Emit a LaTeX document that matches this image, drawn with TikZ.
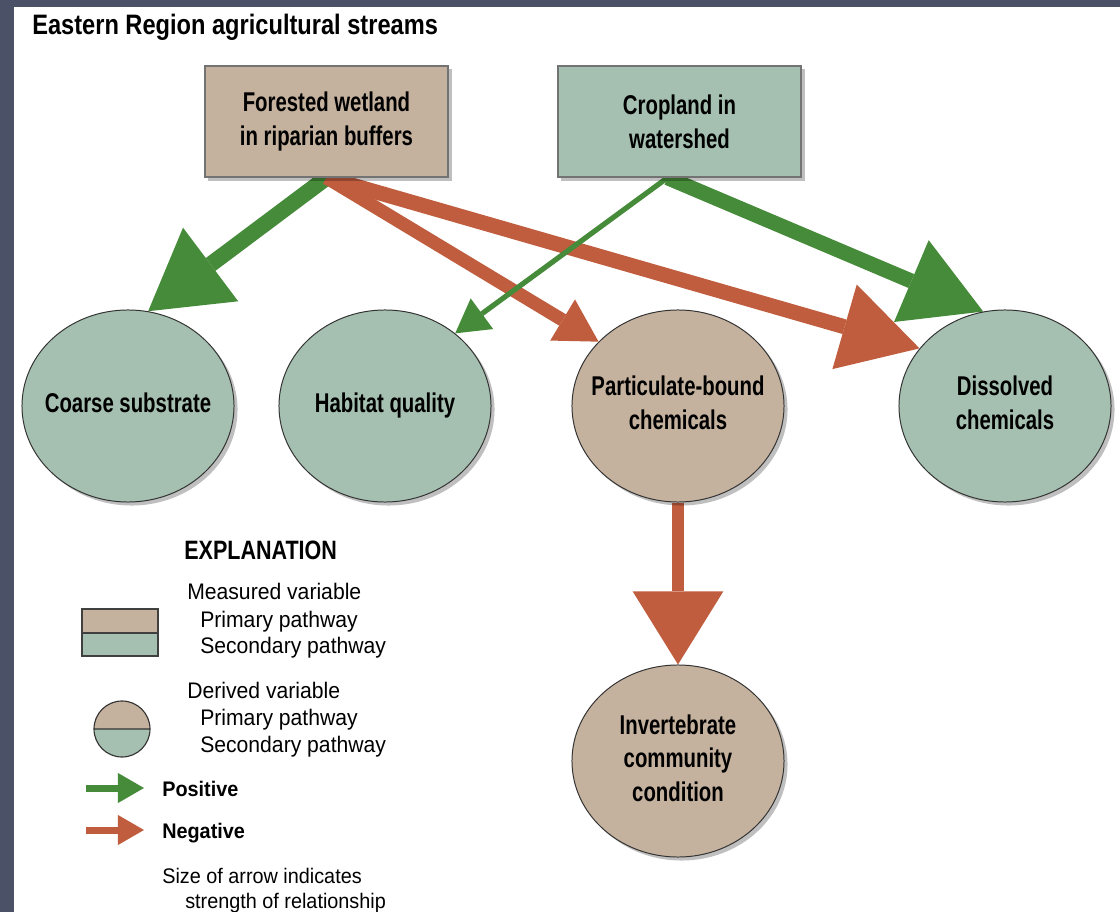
\documentclass[tikz,border=0pt]{standalone}
\usepackage{fontspec}
\usepackage{xcolor}
\usepackage{tikz}
\usetikzlibrary{shapes.geometric, arrows.meta, shadows, calc}

\newfontfamily\nodefont{Liberation Sans}[FakeStretch=0.75]
\newfontfamily\titlefont{Liberation Sans}[FakeStretch=0.84]
\newfontfamily\headfont{Liberation Sans}[FakeStretch=0.81]
\newfontfamily\legendfont{Liberation Sans}[FakeStretch=0.94]

\definecolor{slate}{HTML}{4B5166}
\definecolor{tanfill}{HTML}{C5B29E}
\definecolor{sagefill}{HTML}{A5C0B0}
\definecolor{posgreen}{HTML}{468B3A}
\definecolor{negorange}{HTML}{C05D3E}

% label of zero width, so the ellipse keeps its own size
\newcommand{\flatlabel}[1]{\makebox[0pt]{\begin{tabular}{@{}c@{}}#1\end{tabular}}}

\pgfdeclarelayer{paper}
\pgfdeclarelayer{links}
\pgfsetlayers{paper,links,main}

\begin{document}
\begin{tikzpicture}[
x=0.025cm, y=-0.025cm,
shadowed/.style={
drop shadow={shadow xshift=2.5pt, shadow yshift=-2.5pt, fill=black, opacity=0.25}
},
measbox/.style={
rectangle,
draw=black!55,
line width=1pt,
align=center,
minimum width=6.075cm,
minimum height=2.775cm,
font=\nodefont\bfseries\fontsize{19.3pt}{24pt}\selectfont,
shadowed
},
derivnode/.style={
ellipse,
draw=black!80,
line width=0.7pt,
inner sep=0pt,
minimum width=5.3cm,
minimum height=4.8cm,
font=\nodefont\bfseries\fontsize{19.3pt}{24pt}\selectfont,
shadowed
},
legendtext/.style={
anchor=base west,
inner sep=0pt,
font=\legendfont\fontsize{16pt}{19pt}\selectfont
},
linkarrow/.style n args={4}{
draw=#1,
line width=#2,
-{Triangle[length=#3, width=#4, line width=0pt]}
}
]

\useasboundingbox (0,0) rectangle (1120,912);

% Page frame
\begin{pgfonlayer}{paper}
\fill[slate] (0,0) rectangle (1120,912);
\fill[white] (14,7) rectangle (1120,912);
\end{pgfonlayer}

\node[anchor=base west, inner sep=0pt, font=\titlefont\bfseries\fontsize{20pt}{24pt}\selectfont]
(title) at (32,35) {Eastern Region agricultural streams};

% Measured variables
\node[measbox, fill=tanfill] (forest) at (326.5,121.5)
{Forested wetland\\in riparian buffers};

\node[measbox, fill=sagefill] (crop) at (679.5,121.5)
{Cropland in\\watershed};

% Derived variables
\node[derivnode, fill=sagefill] (coarse) at (128,406) {\flatlabel{Coarse substrate}};
\node[derivnode, fill=sagefill] (habitat) at (385,406) {\flatlabel{Habitat quality}};
\node[derivnode, fill=tanfill] (partic) at (678,406) {\flatlabel{Particulate-bound\\chemicals}};
\node[derivnode, fill=sagefill] (dissolved) at (1005,406) {\flatlabel{Dissolved\\chemicals}};
\node[derivnode, fill=tanfill] (invert) at (678,761)
{\flatlabel{Invertebrate\\community\\condition}};

\coordinate (cropfoot) at ($(crop.south)+(-12,0)$);

% Pathways
\begin{pgfonlayer}{links}
\draw[linkarrow={posgreen}{0.4cm}{1.95cm}{2.3cm}] (forest.south) -- (coarse.78);
\draw[linkarrow={negorange}{0.33cm}{1.05cm}{1.2cm}] (forest.south) -- (partic.141);
\draw[linkarrow={negorange}{0.375cm}{1.95cm}{2.2cm}] (forest.south) -- (dissolved.146);
\draw[linkarrow={posgreen}{0.13cm}{0.83cm}{0.95cm}] (cropfoot) -- (habitat.46);
\draw[linkarrow={posgreen}{0.375cm}{1.95cm}{2.22cm}] (cropfoot) -- (dissolved.103);
\draw[linkarrow={negorange}{0.3cm}{1.83cm}{2.27cm}] (partic.south) -- (invert.north);
\end{pgfonlayer}

% Explanation
\node[anchor=base west, inner sep=0pt, font=\headfont\bfseries\fontsize{18.9pt}{22pt}\selectfont]
(explain) at (184,559) {EXPLANATION};

\node[legendtext] (measlabel) at (187,599) {Measured variable};
\node[legendtext] (measprim) at (200,627) {Primary pathway};
\node[legendtext] (meassec) at (200,653) {Secondary pathway};

\fill[tanfill] (82,609) rectangle (158,633);
\fill[sagefill] (82,633) rectangle (158,656);
\draw[black!75, line width=0.8pt] (82,609) rectangle (158,656) (82,633) -- (158,633);

\node[legendtext] (derlabel) at (187,698) {Derived variable};
\node[legendtext] (derprim) at (200,725) {Primary pathway};
\node[legendtext] (dersec) at (200,752) {Secondary pathway};

\begin{scope}
\clip (122,729) circle[radius=0.7cm];
\fill[tanfill] (90,695) rectangle (154,729);
\fill[sagefill] (90,729) rectangle (154,763);
\end{scope}
\draw[black!80, line width=0.8pt] (122,729) circle[radius=0.7cm] (94,729) -- (150,729);

\coordinate (posstart) at (86,788);
\coordinate (posend) at (144,788);
\coordinate (negstart) at (86,830);
\coordinate (negend) at (144,830);
\draw[linkarrow={posgreen}{0.175cm}{0.65cm}{0.75cm}] (posstart) -- (posend);
\draw[linkarrow={negorange}{0.175cm}{0.65cm}{0.75cm}] (negstart) -- (negend);

\node[legendtext, font=\legendfont\bfseries\fontsize{15pt}{18pt}\selectfont]
(poslabel) at (162,796) {Positive};
\node[legendtext, font=\legendfont\bfseries\fontsize{15pt}{18pt}\selectfont]
(neglabel) at (162,838) {Negative};

\node[legendtext, font=\legendfont\fontsize{15pt}{18pt}\selectfont]
(sizelabel) at (162,883) {Size of arrow indicates};
\node[legendtext, font=\legendfont\fontsize{15pt}{18pt}\selectfont]
(sizelabeltwo) at (185,908) {strength of relationship};

\end{tikzpicture}
\end{document}
